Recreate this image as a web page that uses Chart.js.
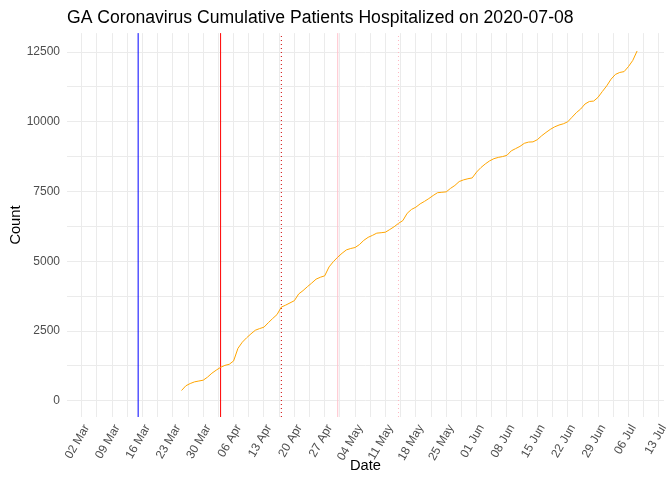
<!DOCTYPE html>
<html>
<head>
<meta charset="utf-8">
<script src="https://cdn.jsdelivr.net/npm/chart.js@4.4.1/dist/chart.umd.min.js"></script>
<style>
  html, body { margin: 0; padding: 0; background: #fff; }
  #wrap { width: 672px; height: 480px; }
</style>
</head>
<body>
<div id="wrap"><canvas id="mycanvas" width="672" height="480"></canvas></div>
<script>
// days are counted from 2020-03-02 (day 0)
var baseDate = Date.UTC(2020, 2, 2);
var firstDay = '2020-03-25';

// cumulative hospitalized, one value per day from 2020-03-25 to 2020-07-08
var hospitalized = [
  370, 540, 620, 680, 710, 740, 850, 990, 1100, 1200,
  1270, 1310, 1430, 1880, 2100, 2260, 2400, 2530, 2590, 2640,
  2800, 2950, 3090, 3360, 3430, 3510, 3590, 3830, 3950, 4090,
  4220, 4360, 4430, 4480, 4800, 4990, 5150, 5290, 5410, 5460,
  5495, 5600, 5750, 5860, 5930, 6010, 6025, 6045, 6140, 6240,
  6360, 6460, 6720, 6860, 6940, 7060, 7150, 7250, 7360, 7460,
  7475, 7490, 7615, 7720, 7860, 7920, 7960, 7990, 8200, 8360,
  8490, 8600, 8680, 8725, 8755, 8800, 8960, 9040, 9120, 9230,
  9275, 9282, 9360, 9500, 9620, 9730, 9820, 9885, 9930, 10000,
  10165, 10330, 10460, 10640, 10730, 10745, 10880, 11090, 11290, 11530,
  11700, 11770, 11800, 11980, 12200, 12540
];

// event dates drawn as vertical lines
var eventDates = ['2020-03-15', '2020-04-03', '2020-04-17', '2020-04-30', '2020-05-14'];
var eventColors = ['#0000FF', '#FF0000', '#CC0000', '#FFC0CB', '#FFB6C1'];
var eventDotted = [false, false, true, false, true];

var yTicks = [0, 2500, 5000, 7500, 10000, 12500];
var months = ['Jan','Feb','Mar','Apr','May','Jun','Jul','Aug','Sep','Oct','Nov','Dec'];

function dayNum(s) {
  var p = s.split('-');
  return Math.round((Date.UTC(+p[0], +p[1] - 1, +p[2]) - baseDate) / 86400000);
}
function dayLabel(v) {
  var d = new Date(baseDate + v * 86400000);
  var dd = d.getUTCDate();
  return (dd < 10 ? '0' : '') + dd + ' ' + months[d.getUTCMonth()];
}

var start = dayNum(firstDay);
var linePoints = [];
for (var i in hospitalized) {
  linePoints.push({ x: start + Number(i), y: hospitalized[i] });
}

var yMin = -580, yMax = 13180;
var xMin = -3.4, xMax = 134.2;

var datasets = [{
  label: 'Hospitalized',
  data: linePoints,
  borderColor: '#FFA500',
  borderWidth: 1,
  pointRadius: 0,
  tension: 0,
  fill: false
}];
for (var k in eventDates) {
  var d = dayNum(eventDates[k]);
  datasets.push({
    label: eventDates[k],
    data: [{ x: d, y: yMin }, { x: d, y: yMax }],
    borderColor: eventColors[k],
    borderWidth: 1,
    borderDash: eventDotted[k] ? [1, 3] : [],
    pointRadius: 0,
    fill: false
  });
}

var tickFont = { family: '"Liberation Sans", Arial, sans-serif', size: 12 };
var titleFont = { family: '"Liberation Sans", Arial, sans-serif', size: 14.67 };

var ctx = document.getElementById('mycanvas');
var chart = new Chart(ctx, {
  type: 'line',
  data: { datasets: datasets },
  options: {
    responsive: false,
    animation: false,
    devicePixelRatio: 1,
    layout: { padding: { left: 0, right: 8, top: 0, bottom: 0 } },
    plugins: {
      legend: { display: false },
      tooltip: { enabled: false },
      title: {
        display: true,
        text: 'GA Coronavirus Cumulative Patients Hospitalized on 2020-07-08',
        align: 'start',
        fullSize: false,
        color: '#000',
        font: { family: '"Liberation Sans", Arial, sans-serif', size: 17.6, weight: 'normal' },
        padding: { top: 8, bottom: 4 }
      }
    },
    scales: {
      x: {
        type: 'linear',
        min: xMin,
        max: xMax,
        afterBuildTicks: function(axis) {
          var t = [];
          for (var v = 0; v <= 133; v += 3.5) t.push({ value: v });
          axis.ticks = t;
        },
        afterFit: function(axis) {
          axis.height = 63;
          axis.paddingLeft = 0;
          axis.paddingRight = 0;
        },
        ticks: {
          autoSkip: false,
          minRotation: 60,
          maxRotation: 60,
          padding: 5,
          labelOffset: 5,
          color: '#4D4D4D',
          font: tickFont,
          callback: function(v) { return v % 7 === 0 ? dayLabel(v) : ''; }
        },
        grid: { color: '#EBEBEB', lineWidth: 1, drawTicks: false },
        border: { display: false },
        title: { display: true, text: 'Date', color: '#000', font: titleFont, padding: { top: 0, bottom: 5 } }
      },
      y: {
        type: 'linear',
        min: yMin,
        max: yMax,
        afterBuildTicks: function(axis) {
          var t = [];
          for (var v = 0; v <= 12500; v += 1250) t.push({ value: v });
          axis.ticks = t;
        },
        afterFit: function(axis) {
          axis.width = 67;
          axis.paddingTop = 0;
          axis.paddingBottom = 0;
        },
        ticks: {
          padding: 7,
          color: '#4D4D4D',
          font: tickFont,
          callback: function(v) { return yTicks.indexOf(v) >= 0 ? String(v) : ''; }
        },
        grid: { color: '#EBEBEB', lineWidth: 1, drawTicks: false },
        border: { display: false },
        title: { display: true, text: 'Count', color: '#000', font: titleFont, padding: { top: 7, bottom: 0 } }
      }
    }
  }
});
</script>
</body>
</html>
